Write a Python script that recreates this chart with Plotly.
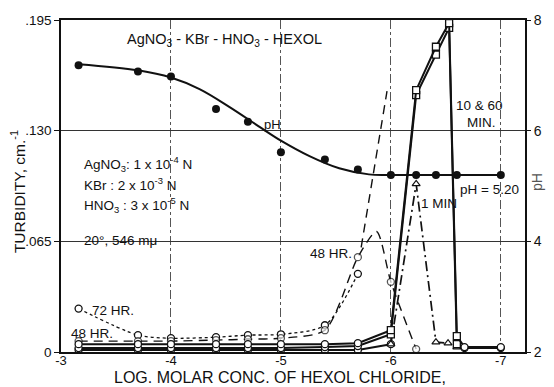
import plotly.graph_objects as go

# log molar concentration of hexol chloride (x) for the low-concentration runs
xs_low = [-3.16, -3.70, -4.0, -4.41, -4.70, -5.0, -5.40, -5.70]

# pH measurements and the smooth curve drawn through them
ph_x = [-3.16, -3.70, -4.0, -4.41, -4.70, -5.0, -5.40, -5.70, -6.0, -6.23, -6.41, -6.60, -7.0]
ph_y = [7.18, 7.07, 6.98, 6.39, 6.16, 5.61, 5.48, 5.30, 5.20, 5.20, 5.20, 5.20, 5.20]
ph_fit_x = [-3.16, -3.70, -4.0, -4.26, -4.53, -4.82, -5.0, -5.26, -5.53, -5.80, -6.0, -6.5, -7.0]
ph_fit_y = [7.20, 7.09, 6.96, 6.75, 6.43, 6.05, 5.82, 5.54, 5.32, 5.21, 5.20, 5.20, 5.20]

# turbidity after 10 and 60 minutes
x_min = xs_low + [-6.0, -6.23, -6.41, -6.53, -6.60, -6.67, -7.0]
y_10min = [0.0046, 0.0046, 0.0046, 0.0046, 0.0046, 0.0046, 0.0046, 0.0052,
           0.0128, 0.1538, 0.1793, 0.1932, 0.0093, 0.0029, 0.0029]
y_60min = [0.0023, 0.0023, 0.0023, 0.0023, 0.0023, 0.0023, 0.0029, 0.0035,
           0.0104, 0.1509, 0.1747, 0.1904, 0.0046, 0.0023, 0.0023]
sym_min = ["circle"] * 8 + ["square"] * 5 + ["circle"] * 2

# turbidity after 1 minute
x_1min = xs_low + [-6.0, -6.23, -6.41, -6.52, -6.60]
y_1min = [0.0012] * 8 + [0.0046, 0.0987, 0.0058, 0.0052, 0.0029]

# turbidity after 48 hours (the -5.87 point is the crest of the curve, no marker)
x_48 = xs_low + [-5.87, -6.0, -6.23]
y_48 = [0.0064, 0.0064, 0.0064, 0.0070, 0.0075, 0.0081, 0.0128, 0.0557, 0.0708, 0.0412, 0.0017]
size_48 = [7] * 8 + [0, 7, 7]
ext48_x = [-5.73, -5.965]
ext48_y = [0.0615, 0.1532]

# turbidity after 72 hours
x_72 = xs_low
y_72 = [0.0255, 0.0099, 0.0081, 0.0087, 0.0099, 0.0104, 0.0157, 0.0459]

turb_ticks = [0, 0.065, 0.130, 0.195]
turb_labels = ["0", ".065", ".130", ".195"]
x_ticks = [-3, -4, -5, -6, -7]
ph_ticks = [2, 4, 6, 8]

FONT = "Liberation Sans"
BLK = "#111"
open_marker = dict(size=7, color="white", line=dict(color=BLK, width=1.3))

fig = go.Figure()

# pH curve and points on the secondary axis
fig.add_trace(go.Scatter(x=ph_fit_x, y=ph_fit_y, yaxis="y2", mode="lines",
                         line=dict(color=BLK, width=2, shape="spline", smoothing=1.0)))
fig.add_trace(go.Scatter(x=ph_x, y=ph_y, yaxis="y2", mode="markers",
                         marker=dict(size=8, color=BLK)))

# 72 hr, dotted
fig.add_trace(go.Scatter(x=x_72, y=y_72, mode="lines+markers",
                         line=dict(color=BLK, width=1.3, dash="dot", shape="spline", smoothing=0.8),
                         marker=dict(symbol="circle", **open_marker)))

# 48 hr, dashed
fig.add_trace(go.Scatter(x=ext48_x, y=ext48_y, mode="lines",
                         line=dict(color=BLK, width=1.4, dash="9px,6px")))
fig.add_trace(go.Scatter(x=x_48, y=y_48, mode="lines+markers",
                         line=dict(color=BLK, width=1.4, dash="9px,6px", shape="spline", smoothing=0.7),
                         marker=dict(symbol="circle", size=size_48, color="white",
                                     line=dict(color=BLK, width=1.3))))

# 1 min: solid baseline, dash-dot peak
fig.add_trace(go.Scatter(x=x_1min[:9], y=y_1min[:9], mode="lines+markers",
                         line=dict(color=BLK, width=2),
                         marker=dict(symbol="circle", **open_marker)))
fig.add_trace(go.Scatter(x=x_1min[8:], y=y_1min[8:], mode="lines+markers",
                         line=dict(color=BLK, width=1.7, dash="10px,4px,2px,4px"),
                         marker=dict(symbol="triangle-up", size=7, color="white",
                                     line=dict(color=BLK, width=1.2))))

# 10 and 60 min, solid
for ys in (y_60min, y_10min):
    fig.add_trace(go.Scatter(x=x_min, y=ys, mode="lines+markers",
                             line=dict(color=BLK, width=2),
                             marker=dict(symbol=sym_min, size=7, color="white",
                                         line=dict(color=BLK, width=1.3))))


def px_to_x(px):
    return -3 - (px - 61) / 110.4


def px_to_y(py):
    return (352 - py) / 336 * 0.195


annots = [
    ("AgNO<sub>3</sub> - KBr - HNO<sub>3</sub> - HEXOL", 225, 36, "center", 14.5),
    ("pH", 273, 122, "center", 13),
    ("AgNO<sub>3</sub>: 1 x 10<sup>-4</sup> N", 82, 162, "left", 13.5),
    ("KBr : 2 x 10<sup>-3</sup> N", 82, 182, "left", 13.5),
    ("HNO<sub>3</sub> : 3 x 10<sup>-5</sup> N", 82, 203, "left", 13.5),
    ("20°, 546 mμ", 82, 239, "left", 13.5),
    ("10 & 60", 481, 103, "center", 13.5),
    ("MIN.", 483, 120, "center", 13.5),
    ("pH = 5.20", 491, 188, "center", 13.5),
    ("1 MIN", 441, 202, "center", 13.5),
    ("48 HR.", 332, 252, "center", 13.5),
    ("72 HR.", 113, 310, "center", 13.5),
    ("48 HR.", 92, 333, "center", 13.5),
]
for t, px, py, anchor, fs in annots:
    fig.add_annotation(text=t, x=px_to_x(px), y=px_to_y(py), xanchor=anchor, yanchor="middle",
                       font=dict(family=FONT, size=fs, color=BLK), showarrow=False)

# axis titles
fig.add_annotation(text="LOG. MOLAR CONC. OF HEXOL CHLORIDE,", xref="paper", yref="paper",
                   x=(281 - 61) / 466, y=-(378 - 352) / 336, xanchor="center", yanchor="middle",
                   font=dict(family=FONT, size=16, color=BLK), showarrow=False)
fig.add_annotation(text="TURBIDITY, cm.<sup>-1</sup>", xref="paper", yref="paper",
                   x=-(61 - 18) / 466, y=(352 - 190) / 336, textangle=-90,
                   xanchor="center", yanchor="middle",
                   font=dict(family=FONT, size=15.5, color=BLK), showarrow=False)
fig.add_annotation(text="pH", xref="paper", yref="paper",
                   x=(539 - 61) / 466, y=(352 - 180) / 336, textangle=-90,
                   xanchor="center", yanchor="middle",
                   font=dict(family=FONT, size=14, color="#555"), showarrow=False)

fig.update_layout(
    width=554, height=387,
    margin=dict(l=61, r=27, t=16, b=35),
    paper_bgcolor="white", plot_bgcolor="white",
    showlegend=False,
    xaxis=dict(range=[-3, -7.22], tickvals=x_ticks, ticktext=[str(v) for v in x_ticks],
               showgrid=True, gridcolor="#555", gridwidth=0.7, griddash="dashdot",
               zeroline=False, showline=True, linecolor=BLK, linewidth=1.5, mirror=True,
               ticks="", ticklabelstandoff=-4,
               tickfont=dict(family=FONT, size=13, color=BLK)),
    yaxis=dict(range=[0, 0.195], tickvals=turb_ticks, ticktext=turb_labels,
               showgrid=True, gridcolor="#333", gridwidth=0.8,
               zeroline=False, showline=True, linecolor=BLK, linewidth=1.5, mirror=True,
               ticks="outside", ticklen=5, tickcolor=BLK,
               tickfont=dict(family=FONT, size=13.5, color=BLK)),
    yaxis2=dict(range=[2, 8], tickvals=ph_ticks, overlaying="y", side="right",
                showgrid=False, zeroline=False, showline=False,
                ticks="outside", ticklen=5, tickcolor=BLK,
                tickfont=dict(family=FONT, size=14, color=BLK)),
)

fig.write_html("out.html")
